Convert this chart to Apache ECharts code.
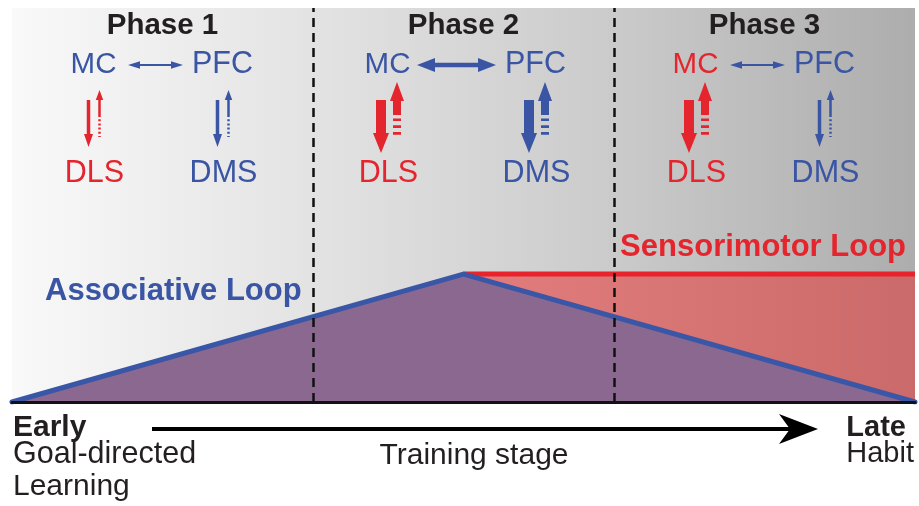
<!DOCTYPE html>
<html>
<head>
<meta charset="utf-8">
<script src="https://cdn.jsdelivr.net/npm/echarts@6/dist/echarts.min.js"></script>
<style>
html,body{margin:0;padding:0;background:#fff;}
#c{width:919px;height:506px;}
</style>
</head>
<body>
<div id="c"></div>
<script>
// ---- data ----
const phaseNames = ['Phase 1', 'Phase 2', 'Phase 3'];
const phaseBounds = [1, 2];
const stageX = [0, 1.5, 3];
const associative = [0, 100, 0];
const sensorimotorX = [1.5, 3];
const sensorimotor = [100, 100];
const corticalWeight = [1, 2, 1];   // MC <-> PFC
const dlsWeight = [1, 2, 2];        // MC <-> DLS
const dmsWeight = [1, 2, 1];        // PFC <-> DMS
const mcColorKey = ['blue', 'blue', 'red'];

const BLUE = '#3a55a4';
const RED = '#e5252d';
const DARK = '#231f20';
const FONT = '"Liberation Sans", Arial, Helvetica, sans-serif';

const chart = echarts.init(document.getElementById('c'), null, {renderer: 'canvas'});

chart.setOption({
  animation: false,
  grid: {
    left: 12, right: 4, top: 8, bottom: 104, show: true, borderWidth: 0,
    backgroundColor: new echarts.graphic.LinearGradient(0, 0, 1, 0, [
      {offset: 0, color: '#f9f9f9'},
      {offset: 0.33, color: '#e3e3e3'},
      {offset: 0.66, color: '#cbcbcb'},
      {offset: 1, color: '#adadad'}
    ])
  },
  xAxis: {
    type: 'value', min: 0, max: 3, z: 10,
    axisLine: {show: true, lineStyle: {color: '#111', width: 3}},
    axisTick: {show: false}, axisLabel: {show: false}, splitLine: {show: false}
  },
  yAxis: {type: 'value', min: 0, max: 308, show: false},
  series: [
    {
      type: 'line', z: 2, symbol: 'none', silent: true,
      data: sensorimotorX.map((x, i) => [x, sensorimotor[i]]),
      lineStyle: {color: '#e8232b', width: 5},
      areaStyle: {opacity: 1, color: new echarts.graphic.LinearGradient(0, 0, 1, 0, [
        {offset: 0, color: '#e27d7d'}, {offset: 1, color: '#cb6a6a'}
      ])}
    },
    {
      type: 'line', z: 3, symbol: 'none', silent: true,
      data: stageX.map((x, i) => [x, associative[i]]),
      lineStyle: {color: '#3a56a6', width: 5, join: 'round', cap: 'round'},
      areaStyle: {opacity: 1, color: '#8b6890'}
    },
    {
      type: 'line', z: 4, data: [], silent: true,
      markLine: {
        symbol: 'none', silent: true, label: {show: false},
        lineStyle: {color: '#111', type: [9, 6], width: 2.5},
        data: phaseBounds.map(x => ({xAxis: x}))
      }
    }
  ]
});

// ---- annotation graphics ----
const px = v => chart.convertToPixel({xAxisIndex: 0}, v);
const els = [];

function txt(text, x, y, size, color, bold, align) {
  els.push({type: 'text', x: x, y: y, silent: true, z: 20, style: {
    text: text, fill: color, font: (bold ? 'bold ' : '') + size + 'px ' + FONT,
    align: align || 'center', verticalAlign: 'middle'
  }});
}
function poly(points, color) {
  els.push({type: 'polygon', silent: true, z: 20, shape: {points: points}, style: {fill: color}});
}
function vArrow(x, yTail, yTip, shaftW, headW, headL, color) {
  const d = yTip > yTail ? 1 : -1;
  const yb = yTip - d * headL;
  poly([[x - shaftW / 2, yTail], [x + shaftW / 2, yTail], [x + shaftW / 2, yb], [x + headW / 2, yb],
        [x, yTip], [x - headW / 2, yb], [x - shaftW / 2, yb]], color);
}
function dashV(x, y1, y2, w, dash, color) {
  els.push({type: 'line', silent: true, z: 20, shape: {x1: x, y1: y1, x2: x, y2: y2},
    style: {stroke: color, lineWidth: w, lineDash: dash}});
}
function hDouble(x1, x2, y, shaftW, headW, headL, color) {
  poly([[x1, y], [x1 + headL, y - headW / 2], [x1 + headL, y - shaftW / 2], [x2 - headL, y - shaftW / 2],
        [x2 - headL, y - headW / 2], [x2, y], [x2 - headL, y + headW / 2], [x2 - headL, y + shaftW / 2],
        [x1 + headL, y + shaftW / 2], [x1 + headL, y + headW / 2]], color);
}
function vPair(col, w, color) {
  if (w === 2) {
    vArrow(col - 6.5, 100, 153, 10, 16, 20, color);
    vArrow(col + 9.5, 115, 82, 8, 14, 19, color);
    dashV(col + 9.5, 118.5, 136, 8, [2.6, 4.2], color);
  } else {
    vArrow(col - 5, 100, 147, 3.5, 9, 13, color);
    vArrow(col + 6, 115, 90, 2.5, 7.5, 10, color);
    dashV(col + 6, 115, 137, 2.5, [2, 2.2], color);
  }
}

phaseNames.forEach((name, i) => {
  const pc = px(i + 0.5);
  const cx = pc - 7;
  const cw = corticalWeight[i];
  const left = cx + (cw === 2 ? -69 : -62);
  const right = cx + (cw === 2 ? 79 : 67);
  txt(name, pc, 26, 29.5, DARK, true);
  txt('MC', left, 65, 29.5, mcColorKey[i] === 'red' ? RED : BLUE, false);
  txt('PFC', right, 65, 30.5, BLUE, false);
  if (cw === 2) hDouble(cx - 39.5, cx + 39.5, 65, 4.5, 14, 18, BLUE);
  else hDouble(cx - 27.5, cx + 27.5, 65, 2.2, 7.5, 12, BLUE);
  vPair(left, dlsWeight[i], RED);
  vPair(right, dmsWeight[i], BLUE);
  txt('DLS', left + 1, 174, 30.5, RED, false);
  txt('DMS', right + 1, 174, 30.5, BLUE, false);
});

txt('Associative Loop', 45, 291.5, 31, BLUE, true, 'left');
txt('Sensorimotor Loop', 906, 247.5, 31, RED, true, 'right');

// bottom axis annotation
els.push({type: 'line', silent: true, z: 20, shape: {x1: 152, y1: 429, x2: 795, y2: 429},
  style: {stroke: '#000', lineWidth: 4}});
poly([[779, 414], [818, 429], [779, 444], [790, 429]], '#000');
txt('Early', 13, 428, 30, DARK, true, 'left');
txt('Goal-directed', 13, 455, 30.5, DARK, false, 'left');
txt('Learning', 13, 487, 30, DARK, false, 'left');
txt('Training stage', 474, 456, 30, DARK, false, 'center');
txt('Late', 906, 428, 29, DARK, true, 'right');
txt('Habit', 914, 454, 29, DARK, false, 'right');

chart.setOption({graphic: {elements: els}});
</script>
</body>
</html>
